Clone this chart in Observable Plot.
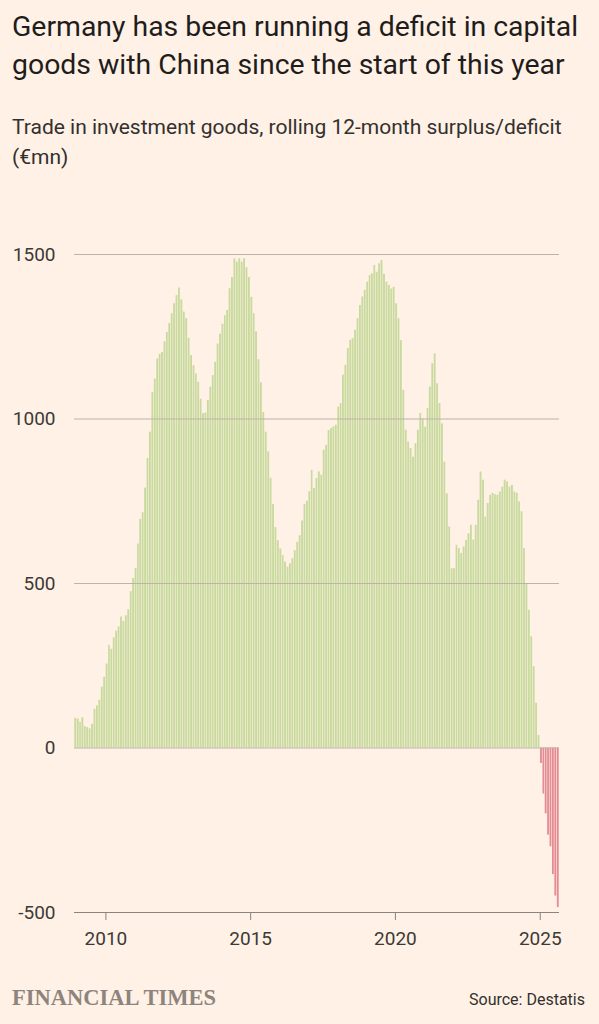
<!DOCTYPE html>
<html>
<head>
<meta charset="utf-8">
<script src="https://cdn.jsdelivr.net/npm/d3@7"></script>
<script src="https://cdn.jsdelivr.net/npm/@observablehq/plot@0.6"></script>
<style>
  html, body { margin: 0; padding: 0; background: #fff1e5; }
  #wrap { position: relative; width: 599px; height: 1024px; overflow: hidden; background: #fff1e5; font-family: Roboto, sans-serif; }
  #title { position: absolute; left: 12px; top: 8px; font-size: 28.4px; line-height: 38px; color: #1f1d1c; white-space: nowrap; }
  #subtitle { position: absolute; left: 12px; top: 112px; font-size: 21px; line-height: 30px; color: #33302e; white-space: nowrap; }
  #chart { position: absolute; left: 0; top: 230px; }
  #ft { position: absolute; left: 12px; top: 985px; font-family: "Liberation Serif", serif; font-weight: bold; font-size: 22.5px; color: #8d847d; white-space: nowrap; }
  #source { position: absolute; right: 14px; top: 990px; font-size: 16px; color: #33302e; white-space: nowrap; }
</style>
</head>
<body>
<div id="wrap">
  <div id="title">Germany has been running a deficit in capital<br>goods with China since the start of this year</div>
  <div id="subtitle">Trade in investment goods, rolling 12-month surplus/deficit<br>(€mn)</div>
  <div id="chart"></div>
  <div id="ft">FINANCIAL TIMES</div>
  <div id="source">Source: Destatis</div>
</div>
<script>
// Rolling 12-month surplus/deficit (€mn), monthly values by year
const v2008 = [90]; // December only
const v2009 = [88, 78, 92, 65, 62, 58, 72, 118, 128, 145, 185, 215];
const v2010 = [255, 312, 300, 335, 355, 368, 398, 385, 402, 420, 475, 515];
const v2011 = [545, 620, 695, 715, 790, 880, 960, 1081, 1121, 1182, 1197, 1202];
const v2012 = [1235, 1263, 1290, 1320, 1350, 1375, 1398, 1362, 1325, 1305, 1245, 1193];
const v2013 = [1162, 1137, 1112, 1060, 1016, 1018, 1056, 1097, 1132, 1172, 1228, 1258];
const v2014 = [1288, 1314, 1330, 1396, 1430, 1487, 1477, 1487, 1477, 1487, 1460, 1430];
const v2015 = [1370, 1320, 1265, 1180, 1110, 1020, 960, 900, 820, 740, 670, 630];
const v2016 = [605, 585, 565, 550, 560, 575, 600, 625, 645, 690, 740, 750];
const v2017 = [779, 844, 789, 819, 839, 829, 905, 920, 965, 971, 976, 981];
const v2018 = [1036, 1047, 1133, 1163, 1214, 1239, 1244, 1270, 1305, 1345, 1371, 1391];
const v2019 = [1416, 1436, 1441, 1467, 1446, 1472, 1482, 1440, 1416, 1406, 1395, 1400];
const v2020 = [1350, 1305, 1238, 1087, 966, 930, 910, 884, 925, 966, 1017, 1000];
const v2021 = [975, 1032, 1097, 1168, 1198, 1107, 1047, 985, 869, 773, 672, 545];
const v2022 = [545, 616, 606, 591, 611, 631, 651, 677, 632, 677, 753, 839];
const v2023 = [814, 702, 743, 768, 774, 770, 768, 778, 793, 814, 809, 793];
const v2024 = [798, 778, 774, 748, 718, 606, 500, 419, 338, 247, 136, 38];
const v2025 = [-47, -140, -200, -265, -300, -385, -450, -485];

const yTicks = [-500, 0, 500, 1000, 1500];
const xTickYears = [2010, 2015, 2020, 2025];

const series = [
  [2008, 11, v2008], [2009, 0, v2009], [2010, 0, v2010], [2011, 0, v2011],
  [2012, 0, v2012], [2013, 0, v2013], [2014, 0, v2014], [2015, 0, v2015],
  [2016, 0, v2016], [2017, 0, v2017], [2018, 0, v2018], [2019, 0, v2019],
  [2020, 0, v2020], [2021, 0, v2021], [2022, 0, v2022], [2023, 0, v2023],
  [2024, 0, v2024], [2025, 0, v2025]
];
const data = [];
for (const [year, startMonth, vals] of series) {
  vals.forEach((v, k) => {
    const d = new Date(Date.UTC(year, startMonth + k, 1));
    data.push({date: d, end: d3.utcMonth.offset(d, 1), value: v});
  });
}
const xStart = data[0].date;
const xEnd = data[data.length - 1].end;
const xTicks = xTickYears.map(y => new Date(Date.UTC(y, 0, 1)));

const green = "#c8da9e";
const red = "#e48b94";

const chart = Plot.plot({
  width: 599,
  height: 722,
  marginLeft: 74,
  marginRight: 40,
  marginTop: 24,
  marginBottom: 40,
  style: {background: "transparent", fontFamily: "Roboto, sans-serif", fontSize: "19px", color: "#3d3935"},
  x: {type: "utc", domain: [xStart, xEnd]},
  y: {domain: [-500, 1500]},
  marks: [
    Plot.rect(data, {
      x1: "date", x2: "end", y1: 0, y2: "value",
      fill: d => d.value < 0 ? red : green,
      insetLeft: 0.3, insetRight: 0.3
    }),
    Plot.ruleY(yTicks.filter(t => t > -500), {stroke: "#bdb3a9", strokeWidth: 1}),
    Plot.ruleY([-500], {stroke: "#8a837e", strokeWidth: 1}),
    Plot.axisY({ticks: yTicks, tickSize: 0, tickPadding: 19, label: null, tickFormat: d => String(d)}),
    Plot.axisX({ticks: xTicks, tickSize: 8, tickPadding: 11, label: null, tickFormat: d3.utcFormat("%Y"), stroke: "#8a837e"})
  ]
});
document.getElementById("chart").appendChild(chart);
</script>
</body>
</html>
